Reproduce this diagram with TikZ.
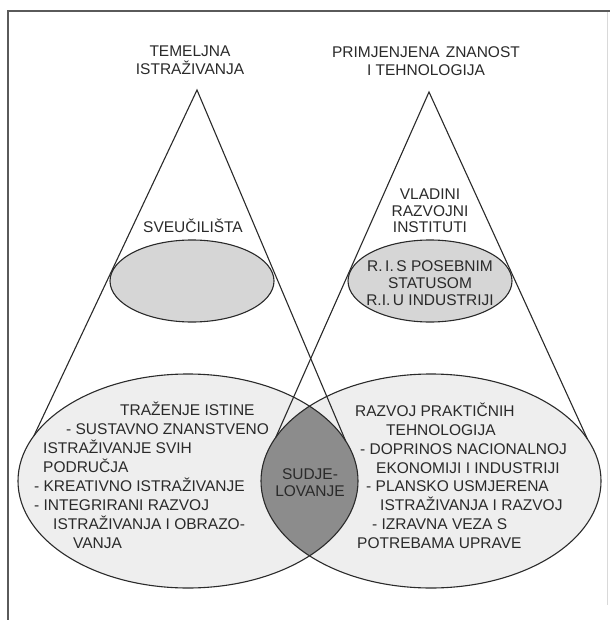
\documentclass[tikz,border=0pt]{standalone}
\usepackage{fontspec}
\setmainfont{Liberation Sans}
\usetikzlibrary{calc}
\definecolor{bigfill}{HTML}{EEEEEE}
\definecolor{smallfill}{HTML}{D6D6D6}
\definecolor{lensfill}{HTML}{8C8C8C}
\definecolor{ink}{HTML}{2A2A2A}
\definecolor{framecol}{HTML}{5A5A5A}
\begin{document}
\begin{tikzpicture}[x=1pt,y=-1pt,
  txt/.style={font=\fontsize{15.5}{17}\selectfont, text=ink, inner sep=0pt},
  ln/.style={txt, anchor=base west},
  ctr/.style={txt, anchor=base},
  outline/.style={draw=ink, line width=1.1pt},
  cone/.style={draw=ink, line width=1.1pt},
  frameline/.style={draw=framecol, line width=1.6pt}]
\useasboundingbox (0,0) rectangle (610,620);

% frame
\draw[frameline] (8,620) -- (8,11) -- (610,11);
\draw[draw=black!15, line width=0.8pt] (607,12) -- (607,605);

% big ellipses and lens
\coordinate (Lc) at (188,481);
\coordinate (Rc) at (431,481);
\fill[bigfill] (Lc) ellipse [x radius=170pt, y radius=107pt];
\fill[bigfill] (Rc) ellipse [x radius=170pt, y radius=107pt];
\begin{scope}
  \clip (Lc) ellipse [x radius=170pt, y radius=107pt];
  \fill[lensfill] (Rc) ellipse [x radius=170pt, y radius=107pt];
\end{scope}
\draw[outline] (Lc) ellipse [x radius=170pt, y radius=107pt];
\draw[outline] (Rc) ellipse [x radius=170pt, y radius=107pt];

% small ellipses
\filldraw[fill=smallfill, outline] (192,281) ellipse [x radius=82pt, y radius=41pt];
\filldraw[fill=smallfill, outline] (430,281) ellipse [x radius=82pt, y radius=41pt];

% cones
\coordinate (LA) at (197,90);
\coordinate (LL) at ($(Lc)+(155:170pt and 107pt)$);
\coordinate (LR) at ($(Lc)+(22:170pt and 107pt)$);
\coordinate (RA) at (429,92);
\coordinate (RL) at ($(Rc)+(156:170pt and 107pt)$);
\coordinate (RR) at ($(Rc)+(23:170pt and 107pt)$);
\draw[cone] (LL) -- (LA) -- (LR);
\draw[cone] (RL) -- (RA) -- (RR);

% titles
\node[ctr] (t1a) at (190,57) {TEMELJNA};
\node[ctr] (t1b) at (190,75) {ISTRAŽIVANJA};
\node[ctr] (t2a) at (426,58) {PRIMJENJENA\hspace{6pt}ZNANOST};
\node[ctr] (t2b) at (426,76) {I TEHNOLOGIJA};

% upper labels
\node[ctr] (sv) at (193,233) {SVEUČILIŠTA};
\node[ctr] (vr1) at (430,200) {VLADINI};
\node[ctr] (vr2) at (430,216) {RAZVOJNI};
\node[ctr] (vr3) at (430,232) {INSTITUTI};
\node[ctr] (ri1) at (430,271) {R.\,I.\,S POSEBNIM};
\node[ctr] (ri2) at (430,288) {STATUSOM};
\node[ctr] (ri3) at (430,305) {R.I.\,U INDUSTRIJI};

% lens
\node[ctr] (sd1) at (310,479) {SUDJE-};
\node[ctr] (sd2) at (310,496) {LOVANJE};

% left ellipse text
\node[ln] (l1) at (120,415) {TRAŽENJE ISTINE};
\node[ln] (l2) at (66,434) {- SUSTAVNO ZNANSTVENO};
\node[ln] (l3) at (43,453) {ISTRAŽIVANJE SVIH};
\node[ln] (l4) at (43,472) {PODRUČJA};
\node[ln] (l5) at (34,491) {- KREATIVNO ISTRAŽIVANJE};
\node[ln] (l6) at (34,510) {- INTEGRIRANI RAZVOJ};
\node[ln] (l7) at (53,529) {ISTRAŽIVANJA I OBRAZO-};
\node[ln] (l8) at (73,548) {VANJA};

% right ellipse text
\node[ln] (r1) at (355,416) {RAZVOJ PRAKTIČNIH};
\node[ln] (r2) at (386,435) {TEHNOLOGIJA};
\node[ln] (r3) at (360,454) {- DOPRINOS NACIONALNOJ};
\node[ln] (r4) at (376,473) {EKONOMIJI I INDUSTRIJI};
\node[ln] (r5) at (366,491) {- PLANSKO USMJERENA};
\node[ln] (r6) at (380,510) {ISTRAŽIVANJA I RAZVOJ};
\node[ln] (r7) at (372,529) {- IZRAVNA VEZA S};
\node[ln] (r8) at (357,548) {POTREBAMA UPRAVE};
\end{tikzpicture}
\end{document}
